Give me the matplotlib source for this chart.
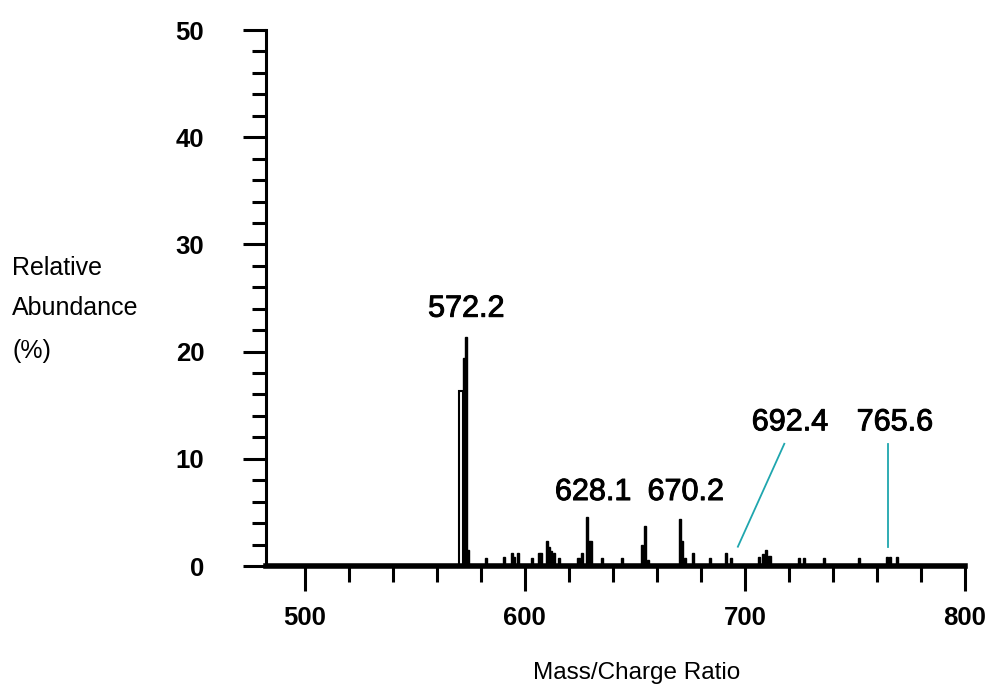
import matplotlib
matplotlib.use("Agg")
import matplotlib.pyplot as plt
import matplotlib.patheffects as pe
from matplotlib.ticker import MultipleLocator

plt.rcParams['font.family'] = ['Liberation Sans', 'DejaVu Sans']

# peak list (m/z, relative abundance %)
peak_mz = [572.3, 573.2, 574.0, 582.2, 590.5, 594.3, 595.2, 597.0, 603.2,
           606.5, 607.4, 610.1, 610.9, 611.7, 613.1, 615.4, 624.4, 625.9,
           628.2, 628.9, 630.1, 635.0, 644.0, 653.1, 654.6, 656.1, 670.5,
           671.2, 672.7, 676.5, 684.0, 691.5, 693.8, 706.5, 708.1, 709.6,
           711.2, 724.7, 727.0, 736.1, 751.9, 764.7, 766.0, 769.2]
peak_int = [19.4, 21.4, 1.5, 0.7, 0.8, 1.2, 0.8, 1.2, 0.7,
            1.2, 1.2, 2.3, 1.8, 1.4, 1.2, 0.7, 0.7, 1.2,
            4.6, 2.3, 2.3, 0.7, 0.7, 2.0, 3.7, 0.6, 4.4,
            2.3, 0.7, 1.2, 0.7, 1.2, 0.7, 0.8, 1.1, 1.5,
            0.9, 0.7, 0.7, 0.7, 0.7, 0.8, 0.8, 0.8]
# outlined (unfilled) shoulder of the main peak
shoulder_mz = [571.0]
shoulder_int = [16.3]

labels = ['572.2', '628.1', '670.2', '692.4', '765.6']

fig = plt.figure(figsize=(9.89, 6.86), dpi=100)
ax = fig.add_axes([266 / 989, 120 / 686, 699 / 989, 536 / 686])

ax.bar(peak_mz, peak_int, width=1.0, color='black', edgecolor='black', linewidth=1.0)
ax.bar(shoulder_mz, shoulder_int, width=1.4, fill=False, edgecolor='black', linewidth=1.5)

ax.set_xlim(482.4, 800)
ax.set_ylim(0, 50)

for s in ['top', 'right']:
    ax.spines[s].set_visible(False)
ax.spines['left'].set_linewidth(2.2)
ax.spines['bottom'].set_linewidth(4)

ax.xaxis.set_major_locator(MultipleLocator(100))
ax.xaxis.set_minor_locator(MultipleLocator(20))
ax.yaxis.set_major_locator(MultipleLocator(10))
ax.yaxis.set_minor_locator(MultipleLocator(2))
ax.tick_params(axis='x', which='major', direction='out', length=18, width=2.2, pad=11)
ax.tick_params(axis='x', which='minor', direction='out', length=11.5, width=2.2)
ax.tick_params(axis='y', which='major', direction='out', length=16.5, width=2.2, pad=28)
ax.tick_params(axis='y', which='minor', direction='out', length=10, width=2.2)
for t in ax.get_xticklabels() + ax.get_yticklabels():
    t.set_fontsize(18.5)
    t.set_fontweight('bold')

fig.text(637 / 989, 1 - 679 / 686, 'Mass/Charge Ratio', fontsize=17.5,
         ha='center', va='baseline')

for txt, yy in zip(['Relative', 'Abundance', '(%)'], [275, 315, 358]):
    fig.text(12 / 989, 1 - yy / 686, txt, fontsize=18, ha='left', va='baseline')

# peak labels, slightly heavier than regular weight
heavy = [pe.withStroke(linewidth=0.7, foreground='black')]
label_xy = [(573.3, 24.0), (631.0, 6.9), (673.1, 6.9), (720.4, 13.4), (768.1, 13.4)]
for txt, (lx, ly) in zip(labels, label_xy):
    ax.text(lx, ly, txt, fontsize=22, ha='center', va='center', path_effects=heavy)

teal = '#1fa6ae'
ax.plot([696.8, 717.9], [1.8, 11.4], color=teal, lw=1.3)
ax.plot([765.2, 765.2], [1.8, 11.4], color=teal, lw=1.3)

fig.savefig('out.png', dpi=100)
